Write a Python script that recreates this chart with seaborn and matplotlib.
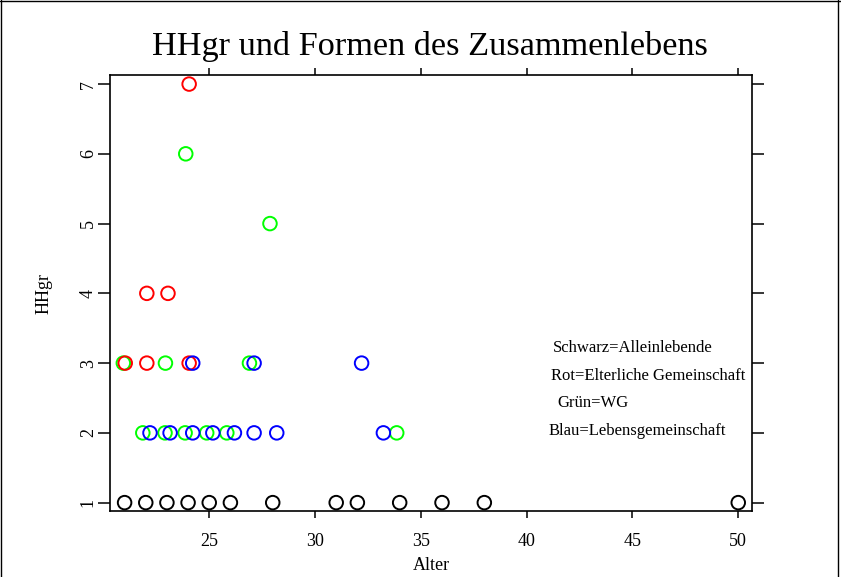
import matplotlib
matplotlib.use("Agg")
import matplotlib.pyplot as plt
from matplotlib.lines import Line2D
import seaborn as sns
import pandas as pd

# values
schwarz_alter = [21, 22, 23, 24, 25, 26, 28, 31, 32, 34, 36, 38, 50]
schwarz_hhgr = [1] * len(schwarz_alter)

gruen_alter = [23.89, 27.87, 20.94, 22.93, 26.9, 21.86, 22.91, 23.86, 24.88, 25.83, 33.86]
gruen_hhgr = [6, 5, 3, 3, 3, 2, 2, 2, 2, 2, 2]

rot_alter = [24.05, 22.05, 23.05, 21.03, 22.05, 24.05]
rot_hhgr = [7, 4, 4, 3, 3, 3]

blau_alter = [24.22, 27.12, 32.2, 22.2, 23.15, 24.22, 25.17, 26.19, 27.12, 28.19, 33.23]
blau_hhgr = [3, 3, 3, 2, 2, 2, 2, 2, 2, 2, 2]

gruppen = ["Schwarz", "Grün", "Rot", "Blau"]
farben = {"Schwarz": "#000000", "Grün": "#00ff00", "Rot": "#ff0000", "Blau": "#0000ff"}

legende = ["Schwarz=Alleinlebende", "Rot=Elterliche Gemeinschaft",
           "Grün=WG", "Blau=Lebensgemeinschaft"]
legende_x = [41.26, 41.13, 41.47, 41.05]
legende_y = [3.22, 2.81, 2.43, 2.02]

df = pd.concat([
    pd.DataFrame({"Alter": schwarz_alter, "HHgr": schwarz_hhgr, "Gruppe": "Schwarz"}),
    pd.DataFrame({"Alter": gruen_alter, "HHgr": gruen_hhgr, "Gruppe": "Grün"}),
    pd.DataFrame({"Alter": rot_alter, "HHgr": rot_hhgr, "Gruppe": "Rot"}),
    pd.DataFrame({"Alter": blau_alter, "HHgr": blau_hhgr, "Gruppe": "Blau"}),
], ignore_index=True)

sns.set_theme(style="ticks")
plt.rcParams["font.family"] = ["Liberation Serif", "DejaVu Serif"]

W, H = 841, 577
fig = plt.figure(figsize=(W / 100, H / 100), dpi=100)
ax = fig.add_axes([110 / W, 1 - 511 / H, (752 - 110) / W, (511 - 75) / H])

sns.scatterplot(data=df, x="Alter", y="HHgr", hue="Gruppe", hue_order=gruppen,
                palette=farben, s=95, marker="o", linewidth=1.4, legend=False, ax=ax)

# hollow circles: move the hue colours to the edges
coll = ax.collections[0]
coll.set_edgecolors(coll.get_facecolors())
coll.set_facecolors("none")

ax.set_xlim(20.31, 50.65)
ax.set_ylim(0.88, 7.13)
ax.set_xticks([25, 30, 35, 40, 45, 50])
ax.set_yticks([1, 2, 3, 4, 5, 6, 7])

for sp in ax.spines.values():
    sp.set_visible(True)
    sp.set_linewidth(1.2)
    sp.set_color("black")

ax.tick_params(direction="out", width=1.1, color="black",
               top=True, right=True, labeltop=False, labelright=False,
               labelsize=13, labelcolor="black")
ax.tick_params(axis="x", length=5, pad=11)
ax.tick_params(axis="y", length=8.5, pad=1)
for lbl in ax.get_yticklabels():
    lbl.set_rotation(90)
    lbl.set_va("center")

ax.set_xlabel("Alter", fontsize=13, color="black")
ax.set_ylabel("HHgr", fontsize=13, color="black")
ax.xaxis.set_label_coords(0.5, -0.106)
ax.yaxis.set_label_coords(-0.090, 0.5)

for t, x, y in zip(legende, legende_x, legende_y):
    ax.text(x, y, t, ha="left", va="center", fontsize=12, color="black")

fig.text(430 / W, 1 - 46 / H, "HHgr und Formen des Zusammenlebens",
         ha="center", va="center", fontsize=24.7, color="black")

# outer frame
for xs, ys in [([1 / W, 1 / W], [0, 1]), ([0, 1], [1 - 1 / H, 1 - 1 / H]),
               ([838 / W, 838 / W], [0, 1])]:
    fig.add_artist(Line2D(xs, ys, transform=fig.transFigure, color="black", lw=1))

fig.savefig("out.png", dpi=100)
plt.close(fig)
